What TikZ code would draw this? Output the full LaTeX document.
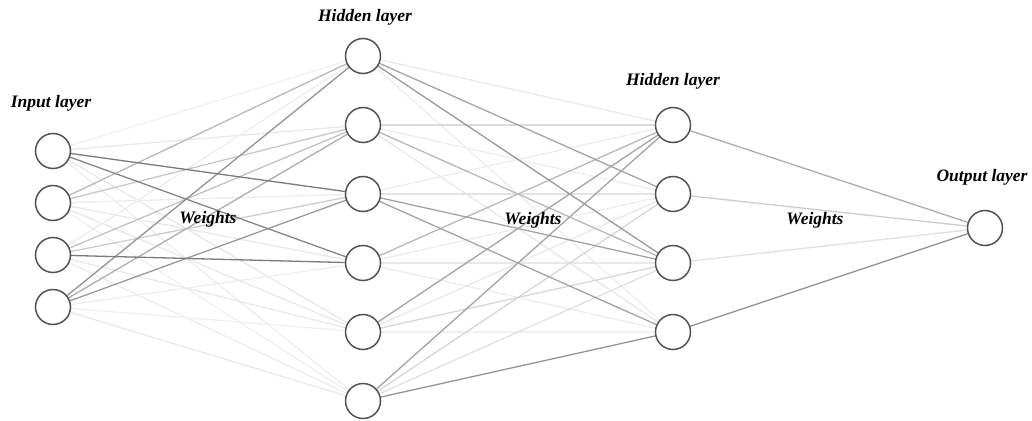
\documentclass[tikz,border=0pt]{standalone}
\usepackage{fontspec}
\setmainfont{Liberation Serif}
\begin{document}
\begin{tikzpicture}[x=1pt,y=-1pt,
  neuron/.style={circle,draw=black!68,line width=1.5pt,fill=white,minimum size=35pt,inner sep=0pt},
  lbl/.style={font=\fontsize{17.5}{19}\selectfont\bfseries\itshape,inner sep=1pt},
  wire/.style={line width=1.3pt}]
\useasboundingbox (0,0) rectangle (1032,420);
% nodes (coordinates only first)
\foreach \i/\y in {1/151,2/203,3/255,4/307} \coordinate (I\i) at (53,\y);
\foreach \i/\y in {1/56,2/125,3/194,4/263,5/332,6/401} \coordinate (H\i) at (363,\y);
\foreach \i/\y in {1/125,2/194,3/263,4/332} \coordinate (G\i) at (673,\y);
\coordinate (O) at (985,228);
% input -> hidden 1
\foreach \a/\b/\s in {
 1/1/6,1/2/9,1/5/9,1/6/7,
 2/3/7,2/4/9,2/5/9,2/6/6,
 3/1/7,3/5/9,3/6/7,
 4/4/7,4/5/6,4/6/9,
 2/2/22,3/3/20,3/2/24,2/1/28,4/2/32,
 4/1/42,4/3/40,1/4/48,1/3/52,3/4/52}
  \draw[wire,black!\s] (I\a) -- (H\b);
% hidden 1 -> hidden 2
\foreach \a/\b/\s in {
 1/1/9,1/4/7,2/2/7,2/4/9,3/1/7,3/2/11,4/2/7,4/3/9,4/4/7,5/2/9,5/4/6,6/3/12,
 2/1/14,5/3/16,6/2/16,2/3/28,4/1/28,
 1/2/36,1/3/40,3/3/36,3/4/36,5/1/36,6/1/36,6/4/42}
  \draw[wire,black!\s] (H\a) -- (G\b);
% hidden 2 -> output
\foreach \a/\s in {3/12,2/20,1/32,4/42}
  \draw[wire,black!\s] (G\a) -- (O);
% neurons
\foreach \i in {1,...,4} \node[neuron] (nI\i) at (I\i) {};
\foreach \i in {1,...,6} \node[neuron] (nH\i) at (H\i) {};
\foreach \i in {1,...,4} \node[neuron] (nG\i) at (G\i) {};
\node[neuron] (nO) at (O) {};
% labels
\node[lbl] (lin) at (51,103) {Input layer};
\node[lbl] (lh1) at (365,17) {Hidden layer};
\node[lbl] (lh2) at (673,81) {Hidden layer};
\node[lbl] (lout) at (982,177) {Output layer};
\node[lbl] (w1) at (208,219) {Weights};
\node[lbl] (w2) at (533,220) {Weights};
\node[lbl] (w3) at (815,220) {Weights};
\end{tikzpicture}
\end{document}
